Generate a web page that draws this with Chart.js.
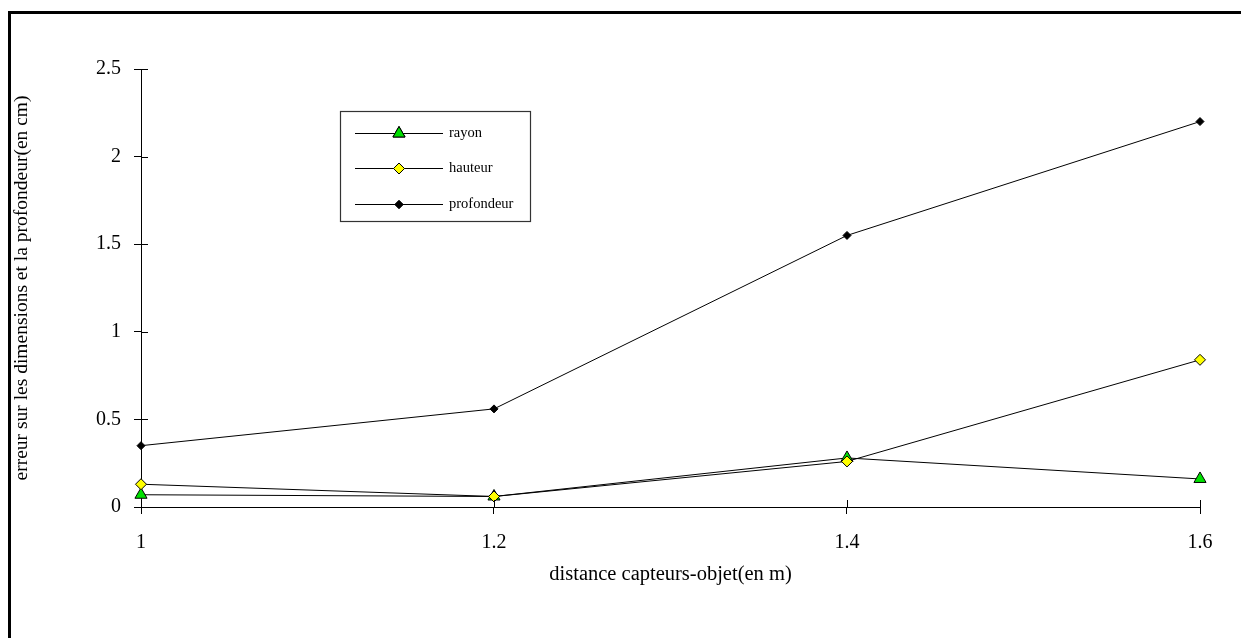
<!DOCTYPE html>
<html>
<head>
<meta charset="utf-8">
<script src="https://cdn.jsdelivr.net/npm/chart.js@4"></script>
<style>
    html, body { margin: 0; padding: 0; background: #fff; }
    #wrap { position: relative; width: 1241px; height: 638px; overflow: hidden; }
    #frame { position: absolute; left: 8px; top: 11px; width: 1300px; height: 700px; border-top: 3px solid #000; border-left: 3px solid #000; }
    canvas { position: absolute; left: 0; top: 0; }
</style>
</head>
<body>
<div id="wrap">
    <div id="frame"></div>
    <canvas id="chart" width="1241" height="638"></canvas>
</div>
<script>
// données
const distances = [1, 1.2, 1.4, 1.6];
const rayon = [0.07, 0.06, 0.28, 0.16];
const hauteur = [0.13, 0.06, 0.26, 0.84];
const profondeur = [0.35, 0.56, 1.55, 2.2];
const xTicks = [1, 1.2, 1.4, 1.6];
const yTicks = [0, 0.5, 1, 1.5, 2, 2.5];

const FONT = 'Liberation Serif, Times New Roman, serif';

function pts(values) {
    return distances.map((d, i) => ({ x: d, y: values[i] }));
}

// ticks qui traversent l'axe (partie intérieure)
const crossTicks = {
    id: 'crossTicks',
    afterDraw(chart) {
        const { ctx, chartArea: a, scales: { x, y } } = chart;
        ctx.save();
        ctx.strokeStyle = '#000';
        ctx.lineWidth = 1;
        ctx.beginPath();
        xTicks.forEach(v => {
            const px = Math.round(x.getPixelForValue(v)) + 0.5;
            ctx.moveTo(px, a.bottom);
            ctx.lineTo(px, a.bottom - 7);
        });
        yTicks.forEach(v => {
            const py = Math.round(y.getPixelForValue(v)) + 0.5;
            ctx.moveTo(a.left, py);
            ctx.lineTo(a.left + 7, py);
        });
        ctx.stroke();
        ctx.restore();
    }
};

// légende encadrée dans la zone du graphique
const boxLegend = {
    id: 'boxLegend',
    afterDraw(chart) {
        const ctx = chart.ctx;
        const bx = 340.5, by = 111.5, bw = 190, bh = 110;
        ctx.save();
        ctx.strokeStyle = '#333';
        ctx.lineWidth = 1.2;
        ctx.strokeRect(bx, by, bw, bh);
        const rows = [133, 168, 204];
        chart.data.datasets.forEach((ds, i) => {
            const yy = rows[i] + 0.5;
            ctx.strokeStyle = '#000';
            ctx.lineWidth = 1;
            ctx.beginPath();
            ctx.moveTo(355, yy);
            ctx.lineTo(443, yy);
            ctx.stroke();
            Chart.helpers.drawPoint(ctx, {
                pointStyle: ds.pointStyle,
                radius: ds.pointRadius,
                borderWidth: 1
            }, 399, yy);
            ctx.fillStyle = ds.pointBackgroundColor;
            ctx.strokeStyle = '#000';
            ctx.fill();
            ctx.stroke();
            ctx.fillStyle = '#000';
            ctx.font = '14.5px ' + FONT;
            ctx.textBaseline = 'middle';
            ctx.fillText(ds.label, 449, yy);
        });
        ctx.restore();
    }
};

new Chart(document.getElementById('chart'), {
    type: 'line',
    data: {
        datasets: [
            { label: 'rayon', data: pts(rayon), pointStyle: 'triangle', pointRadius: 7, pointBackgroundColor: '#00e000', order: 3 },
            { label: 'hauteur', data: pts(hauteur), pointStyle: 'rectRot', pointRadius: 5.5, pointBackgroundColor: '#ffff00', order: 2 },
            { label: 'profondeur', data: pts(profondeur), pointStyle: 'rectRot', pointRadius: 4, pointBackgroundColor: '#000000', order: 1 }
        ].map(ds => Object.assign(ds, {
            borderColor: '#000',
            borderWidth: 1,
            pointBorderColor: '#000',
            pointBorderWidth: 1,
            pointHoverRadius: ds.pointRadius,
            tension: 0,
            fill: false,
            clip: false
        }))
    },
    options: {
        responsive: false,
        animation: false,
        events: [],
        layout: { padding: { left: 10, right: 41, top: 69, bottom: 47 } },
        plugins: { legend: { display: false }, tooltip: { enabled: false } },
        scales: {
            x: {
                type: 'linear',
                min: 1, max: 1.6,
                afterBuildTicks: s => { s.ticks = xTicks.map(v => ({ value: v })); },
                afterFit: s => { s.height = 84; },
                border: { color: '#000', width: 1 },
                grid: { drawOnChartArea: false, tickLength: 7, color: '#000' },
                ticks: { color: '#000', font: { family: FONT, size: 20 }, padding: 17, maxRotation: 0, callback: v => String(v) },
                title: { display: true, text: 'distance capteurs-objet(en m)', color: '#000', font: { family: FONT, size: 20.5 }, padding: { top: 4, bottom: 4 } }
            },
            y: {
                min: 0, max: 2.5,
                afterBuildTicks: s => { s.ticks = yTicks.map(v => ({ value: v })); },
                afterFit: s => { s.width = 131; },
                border: { color: '#000', width: 1 },
                grid: { drawOnChartArea: false, tickLength: 7, color: '#000' },
                ticks: { color: '#000', font: { family: FONT, size: 20 }, padding: 13, callback: v => String(v) },
                title: { display: true, text: 'erreur sur les dimensions et la profondeur(en cm)', color: '#000', font: { family: FONT, size: 19.5 }, padding: { top: 0, bottom: 0 } }
            }
        }
    },
    plugins: [crossTicks, boxLegend]
});
</script>
</body>
</html>
